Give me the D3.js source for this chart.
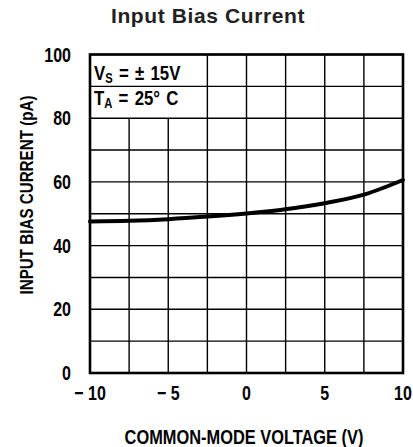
<!DOCTYPE html>
<meta charset="utf-8">
<html lang="en">
<style>
body { margin: 0; background: #fff; }
.cond {
  font-family: "Liberation Sans", Arial, sans-serif;
  font-weight: bold;
  fill: #000;
}
.grid line { stroke: #000; stroke-width: 1.4px; }
.curve { fill: none; stroke: #000; stroke-width: 4px; stroke-linecap: round; }
</style>
<body>
<script src="https://d3js.org/d3.v7.min.js"></script>
<script>

// common-mode voltage (V) and input bias current (pA)
var voltage = [-10, -7.5, -5, -2.5, 0, 2.5, 5, 7.5, 10];
var biasCurrent = [47.6, 47.8, 48.3, 49.1, 50.1, 51.4, 53.3, 56.0, 60.6];

var xTicks = [-10, -5, 0, 5, 10];
var yTicks = [0, 20, 40, 60, 80, 100];
var xGrid = [-10, -7.5, -5, -2.5, 0, 2.5, 5, 7.5, 10];
var yGrid = [0, 10, 20, 30, 40, 50, 60, 70, 80, 90, 100];

var width = 413, height = 447;
var margin = {top: 54.5, right: 10, bottom: 74, left: 90};
var squeeze = 0.8; // no condensed face installed, so squeeze a normal bold one

var x = d3.scaleLinear().domain([-10, 10]).range([margin.left, width - margin.right]);
var y = d3.scaleLinear().domain([0, 100]).range([height - margin.bottom, margin.top]);

var svg = d3.select("body").append("svg")
    .attr("width", width)
    .attr("height", height);

function condText(px, py, anchor, size, rot) {
  return svg.append("text")
      .attr("class", "cond")
      .attr("transform", "translate(" + px + "," + py + ")" + (rot ? " rotate(" + rot + ")" : "") + " scale(" + squeeze + ",1)")
      .attr("text-anchor", anchor)
      .style("font-size", size + "px");
}

// title
svg.append("text")
    .attr("x", 208)
    .attr("y", 23)
    .attr("text-anchor", "middle")
    .style("font-family", "'Liberation Sans', Arial, sans-serif")
    .style("font-weight", "bold")
    .style("font-size", "21px")
    .style("letter-spacing", "0.6px")
    .style("fill", "#222")
    .text("Input Bias Current");

// grid
var grid = svg.append("g").attr("class", "grid");

grid.selectAll(".h").data(yGrid).enter().append("line")
    .attr("x1", x(-10)).attr("x2", x(10))
    .attr("y1", function(d) { return y(d); })
    .attr("y2", function(d) { return y(d); });

// the legend box hides the two inner verticals above 80 pA
grid.selectAll(".v").data(xGrid).enter().append("line")
    .attr("x1", function(d) { return x(d); })
    .attr("x2", function(d) { return x(d); })
    .attr("y1", function(d) { return (d > -10 && d < -2.5) ? y(80) : y(100); })
    .attr("y2", y(0));

// frame
svg.append("rect")
    .attr("x", x(-10)).attr("y", y(100))
    .attr("width", x(10) - x(-10)).attr("height", y(0) - y(100))
    .style("fill", "none").style("stroke", "#000").style("stroke-width", 2.6);

// curve
var line = d3.line()
    .x(function(d, i) { return x(voltage[i]); })
    .y(function(d) { return y(d); })
    .curve(d3.curveMonotoneX);

svg.append("path")
    .datum(biasCurrent)
    .attr("class", "curve")
    .attr("d", line);

// y tick labels
yTicks.forEach(function(d) {
  condText(71, y(d) + 7, "end", 20).text(d);
});

// x tick labels
xTicks.forEach(function(d) {
  condText(x(d), 400, "middle", 20).text(d < 0 ? "\u2212 " + Math.abs(d) : d);
});

// axis titles
condText(244, 444, "middle", 20.5).text("COMMON-MODE VOLTAGE (V)");
condText(33, 195, "middle", 19, -90).text("INPUT BIAS CURRENT (pA)");

// conditions
var t1 = condText(x(-10) + 4, y(90) - 6, "start", 21).style("word-spacing", "2px");
t1.append("tspan").text("V");
t1.append("tspan").attr("dy", 3).style("font-size", "14px").text("S");
t1.append("tspan").attr("dy", -3).text(" = \u00b1 15V");

var t2 = condText(x(-10) + 4, y(80) - 13, "start", 21).style("word-spacing", "2px");
t2.append("tspan").text("T");
t2.append("tspan").attr("dy", 3).style("font-size", "14px").text("A");
t2.append("tspan").attr("dy", -3).text(" = 25\u00b0 C");

</script>
</body>
</html>
